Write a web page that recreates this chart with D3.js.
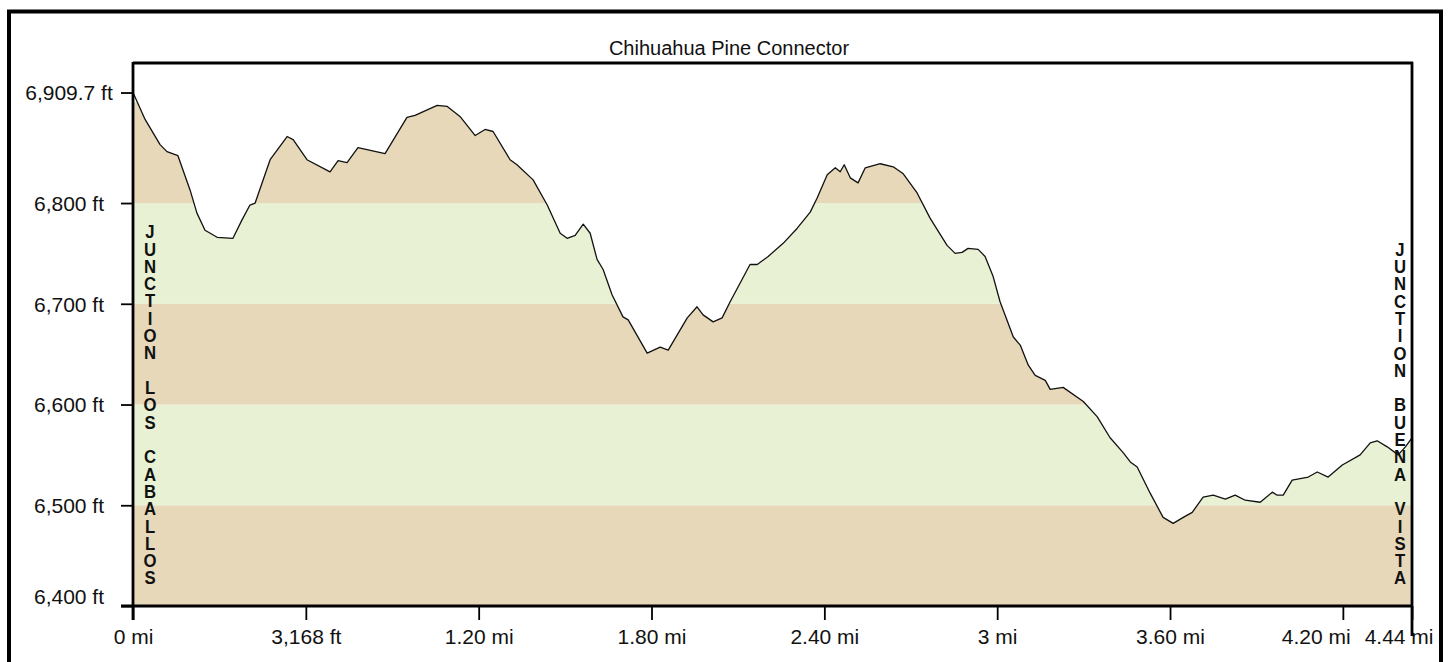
<!DOCTYPE html>
<html>
<head>
<meta charset="utf-8">
<script src="https://cdn.jsdelivr.net/npm/d3@7"></script>
<style>
  body { margin: 0; background: #fff; }
  text { font-family: "Liberation Sans", Arial, sans-serif; fill: #111; }
</style>
</head>
<body>
<svg id="chart" width="1450" height="662"></svg>
<script>
'use strict';

const title = "Chihuahua Pine Connector";

// distance along the trail (mi) and elevation (ft)
const distMi = [0, 0.042, 0.094, 0.118, 0.156, 0.198, 0.222, 0.25, 0.292, 0.347, 0.378, 0.406, 0.424, 0.476, 0.535, 0.556, 0.604, 0.684, 0.712, 0.743, 0.781, 0.875, 0.951, 0.979, 1.056, 1.09, 1.135, 1.188, 1.222, 1.25, 1.309, 1.333, 1.389, 1.438, 1.483, 1.507, 1.535, 1.563, 1.587, 1.611, 1.632, 1.663, 1.701, 1.719, 1.785, 1.83, 1.858, 1.924, 1.958, 1.979, 2.014, 2.045, 2.073, 2.142, 2.167, 2.205, 2.257, 2.306, 2.351, 2.375, 2.41, 2.438, 2.455, 2.469, 2.49, 2.517, 2.542, 2.594, 2.639, 2.674, 2.722, 2.767, 2.826, 2.854, 2.878, 2.899, 2.934, 2.958, 2.986, 3.01, 3.056, 3.08, 3.108, 3.132, 3.167, 3.184, 3.229, 3.299, 3.347, 3.392, 3.438, 3.462, 3.486, 3.531, 3.576, 3.611, 3.646, 3.677, 3.715, 3.75, 3.792, 3.826, 3.861, 3.913, 3.955, 3.972, 3.993, 4.024, 4.08, 4.111, 4.149, 4.198, 4.26, 4.295, 4.319, 4.354, 4.392, 4.417, 4.44];
const elevFt = [6909.7, 6883, 6858, 6851, 6847, 6813, 6790, 6773, 6766, 6765, 6783, 6798, 6800, 6843, 6866, 6863, 6843, 6831, 6842, 6840, 6855, 6849, 6885, 6887, 6897, 6896, 6886, 6867, 6873, 6871, 6843, 6838, 6823, 6798, 6770, 6765, 6768, 6779, 6770, 6744, 6734, 6709, 6687, 6684, 6651, 6657, 6654, 6686, 6697, 6689, 6682, 6686, 6702, 6739, 6739, 6747, 6760, 6775, 6791, 6805, 6828, 6835, 6831, 6838, 6825, 6820, 6835, 6839, 6836, 6829, 6810, 6785, 6758, 6750, 6751, 6755, 6754, 6747, 6727, 6702, 6667, 6659, 6639, 6629, 6624, 6615, 6617, 6603, 6588, 6567, 6552, 6543, 6538, 6512, 6488, 6482, 6488, 6493, 6508, 6510, 6506, 6510, 6505, 6503, 6513, 6510, 6510, 6525, 6528, 6533, 6528, 6540, 6550, 6562, 6564, 6558, 6550, 6558, 6567];

const yTicks = [6400, 6500, 6600, 6700, 6800, 6909.7];
const yTickLabels = ["6,400 ft", "6,500 ft", "6,600 ft", "6,700 ft", "6,800 ft", "6,909.7 ft"];
const xTicks = [0, 0.6, 1.2, 1.8, 2.4, 3.0, 3.6, 4.2, 4.44];
const xTickLabels = ["0 mi", "3,168 ft", "1.20 mi", "1.80 mi", "2.40 mi", "3 mi", "3.60 mi", "4.20 mi", "4.44 mi"];
const bandStarts = [6400, 6500, 6600, 6700, 6800];
const bandColours = ["#e6d8b9", "#e8f1d3"];
const startName = "JUNCTION LOS CABALLOS";
const endName = "JUNCTION BUENA VISTA";

const svg = d3.select("#chart");
const plot = {left: 133, right: 1412, top: 63, bottom: 606};

const x = d3.scaleLinear()
    .domain([0, 4.44])
    .range([plot.left, plot.right]);

const y = d3.scaleLinear()
    .domain([6400, 6939])
    .range([plot.bottom, plot.top]);

const points = distMi.map((d, i) => ({d: d, e: elevFt[i]}));

// outer frame (bottom edge runs off the picture)
svg.append("rect")
    .attr("x", 9).attr("y", 11.5)
    .attr("width", 1432).attr("height", 700)
    .attr("fill", "none")
    .attr("stroke", "#000")
    .attr("stroke-width", 4);

svg.append("text")
    .attr("x", 729)
    .attr("y", 55)
    .attr("text-anchor", "middle")
    .style("font-size", "20px")
    .text(title);

// elevation bands, only shown under the profile
const area = d3.area()
    .x(p => x(p.d))
    .y0(y(6400))
    .y1(p => y(p.e));

svg.append("clipPath")
    .attr("id", "under")
  .append("path")
    .attr("d", area(points));

const yMax = y.domain()[1];
svg.append("g")
    .attr("clip-path", "url(#under)")
  .selectAll("rect")
  .data(bandStarts)
  .join("rect")
    .attr("x", plot.left)
    .attr("width", plot.right - plot.left)
    .attr("y", v => y(Math.min(v + 100, yMax)))
    .attr("height", v => y(v) - y(Math.min(v + 100, yMax)))
    .attr("fill", (v, i) => bandColours[i % 2]);

const line = d3.line()
    .x(p => x(p.d))
    .y(p => y(p.e));

svg.append("path")
    .attr("d", line(points))
    .attr("fill", "none")
    .attr("stroke", "#111")
    .attr("stroke-width", 1.3)
    .attr("stroke-linejoin", "round");

// axes
const xAxis = svg.append("g")
    .attr("transform", `translate(0,${plot.bottom})`)
    .call(d3.axisBottom(x)
      .tickValues(xTicks)
      .tickFormat((d, i) => xTickLabels[i])
      .tickSize(14)
      .tickSizeOuter(0));
xAxis.select(".domain").remove();
xAxis.selectAll("line").attr("stroke", "#000").attr("stroke-width", 1.8);
xAxis.selectAll("text")
    .attr("y", 38)
    .attr("dy", null)
    .attr("fill", "#111")
    .style("font-size", "21px")
    .style("font-family", "'Liberation Sans', Arial, sans-serif");

// push the last labels left so they stay inside the frame
const xLabels = xAxis.selectAll("text").nodes();
let limit = 1433;
for (let i = xLabels.length - 1; i >= 0; i--) {
  const el = xLabels[i];
  const w = el.getComputedTextLength();
  const cx = x(xTicks[i]);
  let shift = 0;
  if (cx + w / 2 > limit) shift = limit - (cx + w / 2);
  d3.select(el).attr("x", shift);
  limit = cx + shift - w / 2 - 14;
}

const yAxis = svg.append("g")
    .attr("transform", `translate(${plot.left},0)`)
    .call(d3.axisLeft(y)
      .tickValues(yTicks)
      .tickFormat((d, i) => yTickLabels[i])
      .tickSize(12)
      .tickSizeOuter(0));
yAxis.select(".domain").remove();
yAxis.selectAll("line").attr("stroke", "#000").attr("stroke-width", 1.8);
yAxis.selectAll("text")
    .attr("x", -64)
    .attr("text-anchor", "middle")
    .attr("dy", (d) => d === 6400 ? "-0.1em" : "0.35em")
    .attr("fill", "#111")
    .style("font-size", "21px")
    .style("font-family", "'Liberation Sans', Arial, sans-serif");

// plot frame
const frame = svg.append("g")
    .attr("stroke", "#000")
    .attr("stroke-width", 2.8)
    .attr("fill", "none");
frame.append("line").attr("x1", plot.left).attr("x2", plot.left).attr("y1", plot.top - 1).attr("y2", plot.bottom + 14);
frame.append("line").attr("x1", plot.left).attr("x2", plot.right + 1).attr("y1", plot.top).attr("y2", plot.top);
frame.append("line").attr("x1", plot.right).attr("x2", plot.right).attr("y1", plot.top - 1).attr("y2", plot.bottom + 30);
frame.append("line").attr("x1", plot.left - 12).attr("x2", plot.right).attr("y1", plot.bottom).attr("y2", plot.bottom);

// trailhead names written top to bottom with upright letters
function drawName(name, cx) {
  const size = 19;
  const step = 17.5;
  const last = 580;
  const first = last - (name.length - 1) * step;
  svg.append("text")
      .attr("transform", `translate(${cx},${first - step / 2}) scale(0.88,1)`)
      .attr("x", 0)
      .attr("y", 0)
      .attr("textLength", name.length * step)
      .attr("lengthAdjust", "spacing")
      .style("writing-mode", "vertical-rl")
      .style("text-orientation", "upright")
      .style("font-size", size + "px")
      .style("font-weight", "bold")
      .text(name);
}

drawName(startName, 150);
drawName(endName, 1400);
</script>
</body>
</html>
